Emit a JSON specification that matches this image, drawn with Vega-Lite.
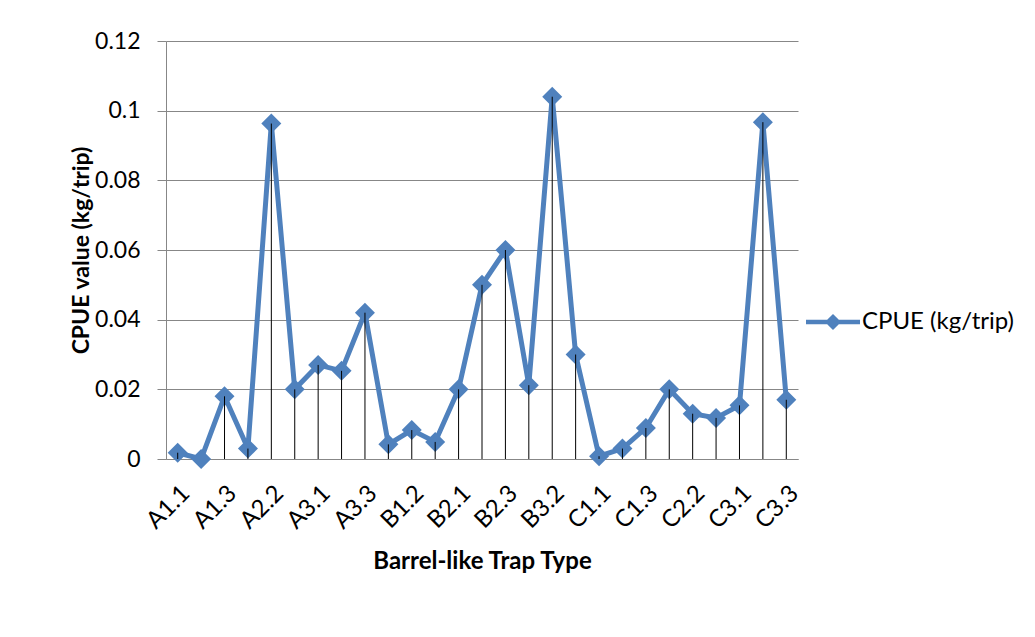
{
  "$schema": "https://vega.github.io/schema/vega-lite/v6.json",
  "width": 632,
  "height": 418,
  "autosize": {"type": "none"},
  "padding": {"left": 166, "top": 41, "right": 237, "bottom": 178},
  "background": "white",
  "config": {"font": "Lato", "view": {"stroke": null}},
  "data": {
    "values": [
      {"trap": "A1.1", "cpue": 0.0018},
      {"trap": "A1.2", "cpue": 0.0},
      {"trap": "A1.3", "cpue": 0.018},
      {"trap": "A2.1", "cpue": 0.003},
      {"trap": "A2.2", "cpue": 0.0963},
      {"trap": "A2.3", "cpue": 0.020},
      {"trap": "A3.1", "cpue": 0.027},
      {"trap": "A3.2", "cpue": 0.0253},
      {"trap": "A3.3", "cpue": 0.042},
      {"trap": "B1.1", "cpue": 0.0042},
      {"trap": "B1.2", "cpue": 0.0083},
      {"trap": "B1.3", "cpue": 0.0049},
      {"trap": "B2.1", "cpue": 0.020},
      {"trap": "B2.2", "cpue": 0.050},
      {"trap": "B2.3", "cpue": 0.060},
      {"trap": "B3.1", "cpue": 0.0212},
      {"trap": "B3.2", "cpue": 0.104},
      {"trap": "B3.3", "cpue": 0.030},
      {"trap": "C1.1", "cpue": 0.0008},
      {"trap": "C1.2", "cpue": 0.003},
      {"trap": "C1.3", "cpue": 0.0089},
      {"trap": "C2.1", "cpue": 0.020},
      {"trap": "C2.2", "cpue": 0.013},
      {"trap": "C2.3", "cpue": 0.0118},
      {"trap": "C3.1", "cpue": 0.0154},
      {"trap": "C3.2", "cpue": 0.0967},
      {"trap": "C3.3", "cpue": 0.017}
    ]
  },
  "encoding": {
    "x": {
      "field": "trap",
      "type": "nominal",
      "sort": null,
      "axis": {
        "title": "Barrel-like Trap Type",
        "titleFontSize": 24,
        "titleFontWeight": "bold",
        "titleColor": "black",
        "titlePadding": 16,
        "labelAngle": -45,
        "labelFontSize": 24,
        "labelColor": "black",
        "labelPadding": 22,
        "values": ["A1.1", "A1.3", "A2.2", "A3.1", "A3.3", "B1.2", "B2.1", "B2.3", "B3.2", "C1.1", "C1.3", "C2.2", "C3.1", "C3.3"],
        "ticks": false,
        "domainColor": "#878787",
        "grid": false
      }
    },
    "y": {
      "field": "cpue",
      "type": "quantitative",
      "scale": {"domain": [0, 0.12], "nice": false},
      "axis": {
        "title": "CPUE value (kg/trip)",
        "titleFontSize": 23,
        "titleFontWeight": "bold",
        "titleColor": "black",
        "titleX": -73,
        "titleY": 209,
        "titleAngle": -90,
        "titleAlign": "center",
        "titleBaseline": "bottom",
        "values": [0, 0.02, 0.04, 0.06, 0.08, 0.1, 0.12],
        "labelExpr": "'' + datum.value",
        "labelFontSize": 23,
        "labelColor": "black",
        "labelPadding": 17,
        "tickSize": 9,
        "tickColor": "#878787",
        "domainColor": "#878787",
        "grid": true,
        "gridColor": "#878787"
      }
    }
  },
  "layer": [
    {
      "mark": {
        "type": "line",
        "strokeWidth": 5,
        "point": {"shape": "diamond", "size": 400, "filled": true, "opacity": 1}
      },
      "encoding": {
        "color": {
          "datum": "CPUE (kg/trip)",
          "type": "nominal",
          "scale": {"range": ["#4F81BD"]},
          "legend": {
            "title": null,
            "orient": "none",
            "legendX": 640,
            "legendY": 254,
            "symbolType": "M-1,-0.08H1V0.08H-1Z M0,-0.3L0.3,0L0,0.3L-0.3,0Z",
            "symbolSize": 2916,
            "symbolStrokeWidth": 0,
            "symbolFillColor": "#4F81BD",
            "symbolOpacity": 1,
            "labelFontSize": 24,
            "labelColor": "black",
            "labelOffset": 2
          }
        }
      }
    },
    {
      "mark": {"type": "rule", "color": "black", "strokeWidth": 1},
      "encoding": {
        "y2": {"datum": 0}
      }
    }
  ]
}
